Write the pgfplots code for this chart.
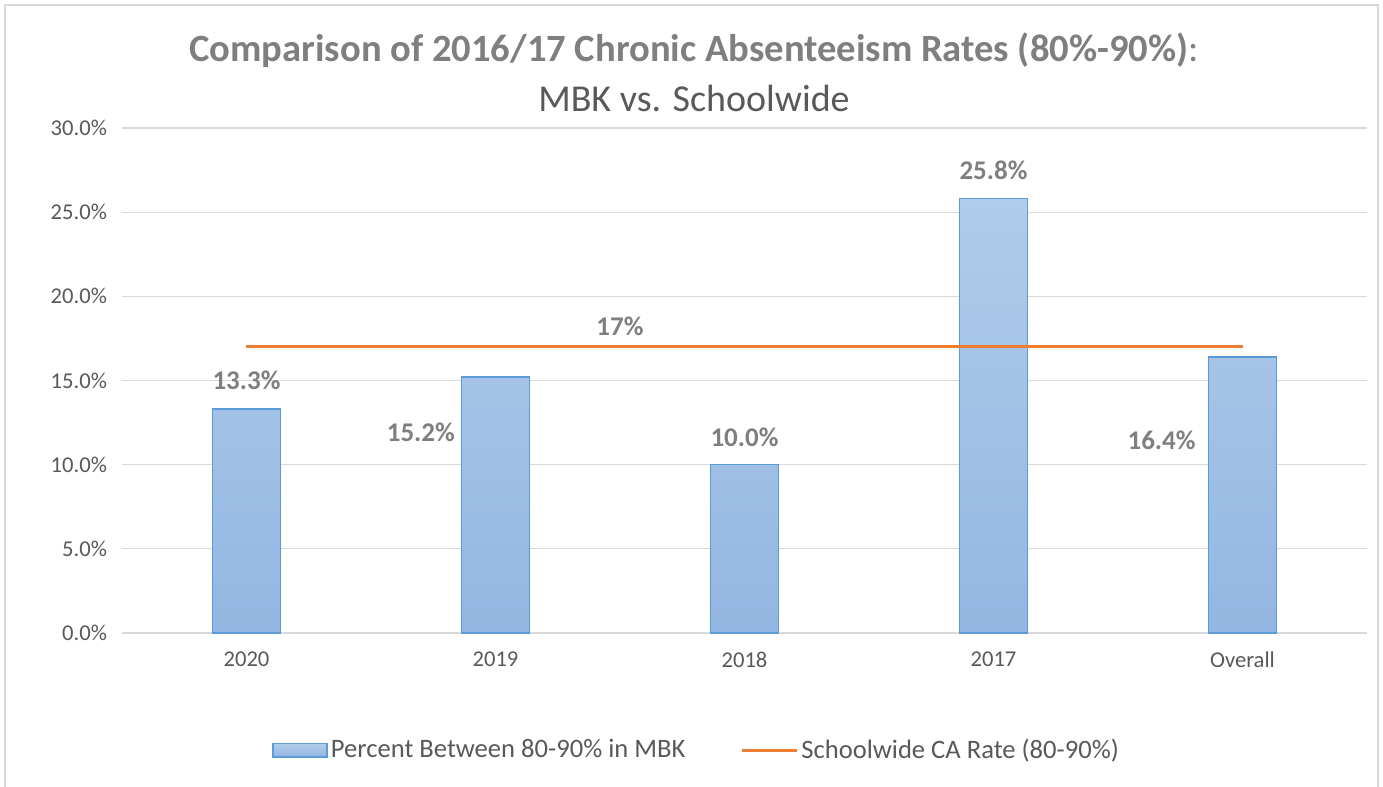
\documentclass[border=0pt]{standalone}
\usepackage{pgfplots}
\pgfplotsset{compat=1.18}
\usepackage{fontspec}
\setmainfont{Carlito}
\definecolor{barblue}{HTML}{5B9BD5}
\definecolor{bartop}{HTML}{B1CCEA}
\definecolor{barbot}{HTML}{93B6E2}
\definecolor{caorange}{HTML}{ED7D31}
\definecolor{txtgray}{HTML}{595959}
\definecolor{lblgray}{HTML}{7F7F7F}
\definecolor{gridgray}{HTML}{D9D9D9}
\begin{document}
\begin{tikzpicture}
\begin{axis}[
    at={(0,0)}, anchor=south west,
    scale only axis, width=622.5pt, height=252.5pt,
    xmin=-0.5, xmax=4.5, ymin=0, ymax=30,
    xtick={0,1,2,3,4},
    xticklabels={2020,2019,2018,2017,Overall},
    ytick={0,5,10,15,20,25,30},
    yticklabel={\pgfmathprintnumber[fixed,fixed zerofill,precision=1]{\tick}\%},
    /pgf/number format/assume math mode=true,
    tick label style={font=\fontsize{11.3pt}{13pt}\selectfont, text=txtgray},
    xticklabel style={yshift=-6pt},
    yticklabel style={xshift=-4pt},
    major tick length=0pt,
    ymajorgrids, grid style={gridgray, line width=0.6pt},
    axis line style={draw=none},
    legend style={at={(0.462,-0.232)}, anchor=center, draw=none,
        legend columns=2, font=\fontsize{13.3pt}{15pt}\selectfont, text=txtgray,
        nodes={inner xsep=1.5pt},
        /tikz/every even column/.append style={column sep=26pt}},
    clip=false,
]
\draw[gridgray, line width=0.6pt] (rel axis cs:0,0) -- (rel axis cs:1,0);
\addplot[ybar, bar width=34pt, draw=barblue, line width=0.75pt,
    top color=bartop, bottom color=barbot,
    legend image code/.code={\draw[draw=barblue, line width=0.75pt, top color=bartop, bottom color=barbot]
        (0pt,-3.3pt) rectangle (27pt,3.3pt);}]
    coordinates {(0,13.3) (1,15.2) (2,10.0) (3,25.8) (4,16.4)};
\addplot[caorange, line width=1.5pt, mark=none,
    legend image code/.code={\draw[caorange, line width=1.5pt] (0pt,0pt) -- (27.5pt,0pt);}]
    coordinates {(0,17) (4,17)};
\legend{Percent Between 80-90\% in MBK, Schoolwide CA Rate (80-90\%)}
\begin{scope}[every node/.style={font=\fontsize{13.5pt}{15pt}\selectfont\bfseries, text=lblgray}]
\node at (axis cs:0,15.03) {13.3\%};
\node at (axis cs:0.70,11.94) {15.2\%};
\node at (axis cs:2,11.65) {10.0\%};
\node at (axis cs:3,27.5) {25.8\%};
\node at (axis cs:3.675,11.47) {16.4\%};
\node at (axis cs:1.5,18.24) {17\%};
\end{scope}
\end{axis}
\node[text=lblgray, font=\fontsize{19.3pt}{22pt}\selectfont] at (286pt,291.5pt)
    {\textbf{Comparison of 2016/17 Chronic Absenteeism Rates (80\%-90\%)}:};
\node[text=txtgray, font=\fontsize{19pt}{22pt}\selectfont] at (286pt,267.5pt)
    {MBK vs. Schoolwide};
\draw[gridgray, line width=0.6pt] (-58.5pt,-80pt) -- (-58.5pt,314pt) -- (628pt,314pt) -- (628pt,-80pt);
\pgfresetboundingbox
\useasboundingbox (-61pt,-77pt) rectangle (630.5pt,316.5pt);
\end{tikzpicture}
\end{document}
